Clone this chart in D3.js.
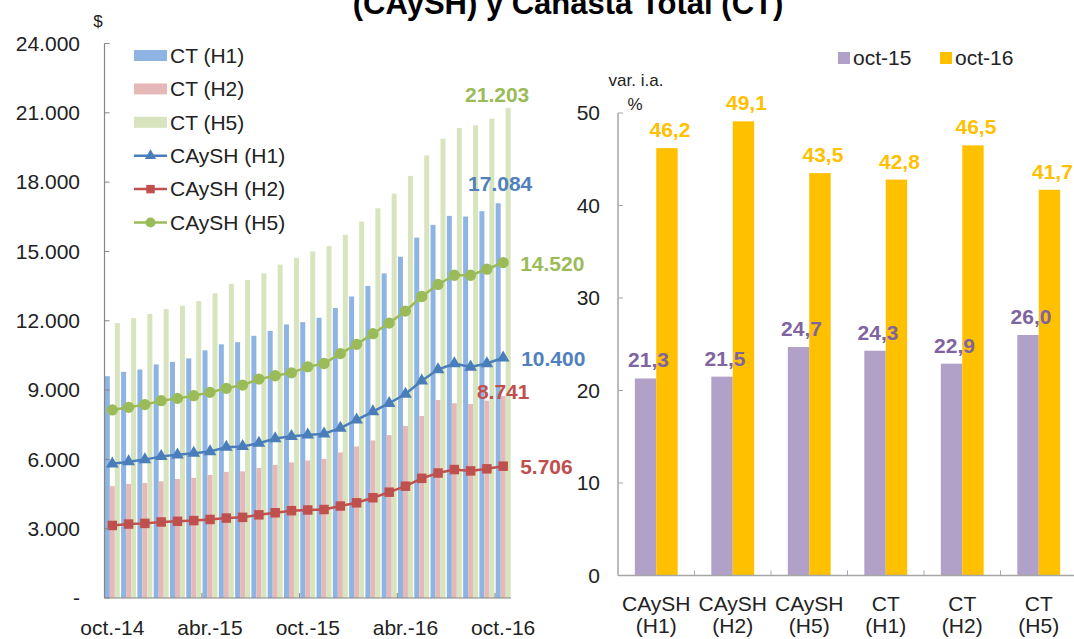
<!DOCTYPE html>
<html>
<head>
<meta charset="utf-8">
<script src="https://cdn.jsdelivr.net/npm/d3@7"></script>
<style>
  html, body { margin: 0; padding: 0; background: #fff; }
  svg { display: block; font-family: Arial, "Liberation Sans", sans-serif; }
</style>
</head>
<body>
<svg id="chart" width="1074" height="639"></svg>
<script>
// ---------- DATA ----------
const months = ["oct.-14","nov.-14","dic.-14","ene.-15","feb.-15","mar.-15","abr.-15","may.-15","jun.-15","jul.-15","ago.-15","sep.-15",
                "oct.-15","nov.-15","dic.-15","ene.-16","feb.-16","mar.-16","abr.-16","may.-16","jun.-16","jul.-16","ago.-16","sep.-16","oct.-16"];
const monthTickLabels = ["oct.-14","abr.-15","oct.-15","abr.-16","oct.-16"];

const ctH1 = [9600, 9790, 9890, 10110, 10220, 10370, 10720, 10980, 11070, 11350, 11560, 11840, 11940, 12130, 12550, 13050, 13510, 14050, 14770, 15600, 16150, 16540, 16510, 16740, 17084];
const ctH2 = [4840, 4940, 4980, 5050, 5150, 5200, 5330, 5460, 5480, 5630, 5760, 5870, 5950, 6020, 6300, 6560, 6820, 7050, 7450, 7880, 8570, 8430, 8400, 8540, 8741];
const ctH5 = [11900, 12110, 12300, 12500, 12650, 12850, 13190, 13600, 13770, 14050, 14430, 14720, 15000, 15230, 15720, 16290, 16870, 17500, 18270, 19160, 19880, 20340, 20460, 20750, 21203];
const caH1 = [5810, 5900, 5990, 6130, 6200, 6270, 6340, 6530, 6560, 6700, 6900, 7000, 7060, 7110, 7350, 7710, 8070, 8430, 8830, 9400, 9890, 10150, 10000, 10150, 10400];
const caH2 = [3140, 3200, 3230, 3290, 3320, 3350, 3400, 3460, 3490, 3600, 3690, 3780, 3810, 3830, 3980, 4120, 4340, 4580, 4840, 5180, 5410, 5560, 5500, 5590, 5706];
const caH5 = [8140, 8255, 8370, 8540, 8640, 8755, 8900, 9075, 9215, 9475, 9620, 9745, 10005, 10150, 10580, 10980, 11440, 11900, 12420, 13050, 13570, 13970, 13970, 14230, 14520];
const leftTicks = [0, 3000, 6000, 9000, 12000, 15000, 18000, 21000, 24000];

const varCategories = ["CAySH (H1)", "CAySH (H2)", "CAySH (H5)", "CT (H1)", "CT (H2)", "CT (H5)"];
const oct15 = [21.3, 21.5, 24.7, 24.3, 22.9, 26.0];
const oct16 = [46.2, 49.1, 43.5, 42.8, 46.5, 41.7];
const rightTicks = [0, 10, 20, 30, 40, 50];

// ---------- SETUP ----------
const svg = d3.select("#chart");
svg.append("rect").attr("width", 1074).attr("height", 639).attr("fill", "#fff");

const loc = d3.formatLocale({decimal: ",", thousands: ".", grouping: [3], currency: ["$", ""]});
const fmtThousands = loc.format(",d");
const fmtPct = loc.format(".1f");

// Title (partially cut off at top, as in the source)
svg.append("text").attr("x", 568).attr("y", 14).attr("text-anchor", "middle")
  .attr("font-size", 31).attr("font-weight", "bold").attr("fill", "#000")
  .text("(CAySH) y Canasta Total (CT)");

// ---------- LEFT CHART ----------
const L = {x0: 104.5, x1: 511, y0: 598, y1: 43.5};
const xL = d3.scaleBand().domain(d3.range(months.length)).range([L.x0, L.x1]).paddingInner(0.08).paddingOuter(0.02);
const xSub = d3.scaleBand().domain(["H1","H2","H5"]).range([0, xL.bandwidth()]);
const yL = d3.scaleLinear().domain([0, 24000]).range([L.y0, L.y1]);

const barSeries = [
  {key: "H1", name: "CT (H1)", values: ctH1, color: "#8DB4E2"},
  {key: "H2", name: "CT (H2)", values: ctH2, color: "#E6B9B8"},
  {key: "H5", name: "CT (H5)", values: ctH5, color: "#D7E4BD"}
];
const lineSeries = [
  {name: "CAySH (H1)", values: caH1, color: "#4A7EBB", marker: "triangle"},
  {name: "CAySH (H2)", values: caH2, color: "#C0504D", marker: "square"},
  {name: "CAySH (H5)", values: caH5, color: "#9BBB59", marker: "circle"}
];

const gL = svg.append("g");
barSeries.forEach(s => {
  gL.append("g").selectAll("rect").data(s.values).join("rect")
    .attr("x", (d, i) => xL(i) + xSub(s.key))
    .attr("y", d => yL(d))
    .attr("width", xSub.bandwidth())
    .attr("height", d => yL(0) - yL(d))
    .attr("fill", s.color);
});

const cx = i => xL(i) + xL.bandwidth() / 2;
const symType = {triangle: d3.symbolTriangle, square: d3.symbolSquare, circle: d3.symbolCircle};
const symSize = {triangle: 70, square: 90, circle: 100};
lineSeries.forEach(s => {
  gL.append("path").datum(s.values)
    .attr("fill", "none").attr("stroke", s.color).attr("stroke-width", 2.5)
    .attr("d", d3.line().x((d, i) => cx(i)).y(d => yL(d)));
  gL.append("g").selectAll("path").data(s.values).join("path")
    .attr("transform", (d, i) => `translate(${cx(i)},${yL(d)})`)
    .attr("d", d3.symbol().type(symType[s.marker]).size(symSize[s.marker]))
    .attr("fill", s.color);
});

// Left axes
const axisColor = "#868686";
gL.append("line").attr("x1", L.x0).attr("x2", L.x0).attr("y1", L.y1).attr("y2", L.y0).attr("stroke", axisColor).attr("stroke-width", 1.2);
gL.append("line").attr("x1", L.x0).attr("x2", L.x1).attr("y1", L.y0).attr("y2", L.y0).attr("stroke", axisColor).attr("stroke-width", 1.2);
leftTicks.forEach(t => {
  gL.append("line").attr("x1", L.x0).attr("x2", L.x0 + 5).attr("y1", yL(t)).attr("y2", yL(t)).attr("stroke", axisColor);
  gL.append("text").attr("x", 80).attr("y", yL(t)).attr("dy", "0.35em").attr("text-anchor", "end")
    .attr("font-size", 21).attr("fill", "#222").text(t === 0 ? "-" : fmtThousands(t));
});
gL.append("text").attr("x", 98).attr("y", 27).attr("text-anchor", "middle").attr("font-size", 17).attr("fill", "#222").text("$");
d3.range(0, months.length + 1, 6).forEach(k => {
  const xb = k === 0 ? L.x0 : (k >= months.length ? L.x1 : xL(k) - xL.step() * xL.paddingInner() / 2);
  gL.append("line").attr("x1", xb).attr("x2", xb).attr("y1", L.y0).attr("y2", L.y0 - 5).attr("stroke", axisColor);
});
months.forEach((m, i) => {
  if (monthTickLabels.includes(m)) {
    gL.append("text").attr("x", cx(i)).attr("y", 635).attr("text-anchor", "middle")
      .attr("font-size", 21).attr("fill", "#222").text(m);
  }
});

// Left legend
const legY0 = 55.5, legStep = 33.4;
const allLeg = barSeries.map(s => ({name: s.name, color: s.color, type: "bar"}))
  .concat(lineSeries.map(s => ({name: s.name, color: s.color, type: "line", marker: s.marker})));
allLeg.forEach((s, i) => {
  const y = legY0 + i * legStep;
  if (s.type === "bar") {
    gL.append("rect").attr("x", 134).attr("y", y - 5.5).attr("width", 33).attr("height", 11).attr("fill", s.color);
  } else {
    gL.append("line").attr("x1", 134).attr("x2", 167).attr("y1", y).attr("y2", y).attr("stroke", s.color).attr("stroke-width", 2.5);
    gL.append("path").attr("transform", `translate(150.5,${y})`)
      .attr("d", d3.symbol().type(symType[s.marker]).size(symSize[s.marker] * 0.8)).attr("fill", s.color);
  }
  gL.append("text").attr("x", 170).attr("y", y).attr("dy", "0.35em").attr("font-size", 21).attr("fill", "#222").text(s.name);
});

// Left end-value labels
const last = months.length - 1;
const endLabels = [
  {v: ctH5[last], color: "#9BBB59", x: cx(last) - 6, y: yL(ctH5[last]) - 6, anchor: "middle"},
  {v: ctH1[last], color: "#4F81BD", x: cx(last) - 3, y: yL(ctH1[last]) - 12, anchor: "middle"},
  {v: caH5[last], color: "#9BBB59", x: cx(last) + 17, y: yL(caH5[last]) + 8, anchor: "start"},
  {v: caH1[last], color: "#4F81BD", x: cx(last) + 18, y: yL(caH1[last]) + 8, anchor: "start"},
  {v: ctH2[last], color: "#C0504D", x: cx(last), y: yL(ctH2[last]) + 3, anchor: "middle"},
  {v: caH2[last], color: "#C0504D", x: cx(last) + 17, y: yL(caH2[last]) + 8, anchor: "start"}
];
endLabels.forEach(l => {
  gL.append("text").attr("x", l.x).attr("y", l.y).attr("text-anchor", l.anchor)
    .attr("font-size", 21).attr("font-weight", "bold").attr("fill", l.color).text(fmtThousands(l.v));
});

// ---------- RIGHT CHART ----------
const R = {x0: 618, x1: 1077, y0: 575.5, y1: 113};
const xR = d3.scaleBand().domain(varCategories).range([R.x0, R.x1]).paddingInner(0.44).paddingOuter(0.22);
const xRs = d3.scaleBand().domain(["oct-15", "oct-16"]).range([0, xR.bandwidth()]);
const yR = d3.scaleLinear().domain([0, 50]).range([R.y0, R.y1]);
const rSeries = [
  {key: "oct-15", values: oct15, color: "#B1A0C7", label: "#8064A2"},
  {key: "oct-16", values: oct16, color: "#FFC000", label: "#FFC000"}
];
const gR = svg.append("g");
const gRbars = gR.append("g");
const gRlabels = gR.append("g");
rSeries.forEach(s => {
  gRbars.append("g").selectAll("rect").data(s.values).join("rect")
    .attr("x", (d, i) => xR(varCategories[i]) + xRs(s.key))
    .attr("y", d => yR(d))
    .attr("width", xRs.bandwidth())
    .attr("height", d => yR(0) - yR(d))
    .attr("fill", s.color);
  gRlabels.append("g").selectAll("text").data(s.values).join("text")
    .attr("x", (d, i) => xR(varCategories[i]) + xRs(s.key) + xRs.bandwidth() / 2 + 3)
    .attr("y", d => yR(d) - 11)
    .attr("text-anchor", "middle").attr("font-size", 21).attr("font-weight", "bold")
    .attr("fill", s.label).text(d => fmtPct(d));
});
const axisColorR = "#A6A6A6";
gR.append("line").attr("x1", R.x0).attr("x2", R.x0).attr("y1", R.y1).attr("y2", R.y0).attr("stroke", axisColorR).attr("stroke-width", 1.5);
gR.append("line").attr("x1", R.x0).attr("x2", 1074).attr("y1", R.y0).attr("y2", R.y0).attr("stroke", axisColorR).attr("stroke-width", 1.5);
rightTicks.forEach(t => {
  gR.append("line").attr("x1", R.x0).attr("x2", R.x0 + 5).attr("y1", yR(t)).attr("y2", yR(t)).attr("stroke", axisColorR);
  gR.append("text").attr("x", 600).attr("y", yR(t)).attr("dy", "0.35em").attr("text-anchor", "end")
    .attr("font-size", 21).attr("fill", "#222").text(t);
});
varCategories.forEach((c, i) => {
  if (i > 0) {
    const xb = xR(c) - xR.step() * xR.paddingInner() / 2;
    gR.append("line").attr("x1", xb).attr("x2", xb).attr("y1", R.y0).attr("y2", R.y0 - 5).attr("stroke", axisColorR);
  }
  const parts = c.split(" ");
  const xc = xR(c) + xR.bandwidth() / 2;
  gR.append("text").attr("x", xc).attr("y", 611).attr("text-anchor", "middle").attr("font-size", 21).attr("fill", "#222").text(parts[0]);
  gR.append("text").attr("x", xc).attr("y", 633).attr("text-anchor", "middle").attr("font-size", 21).attr("fill", "#222").text(parts[1]);
});
gR.append("text").attr("x", 636).attr("y", 86).attr("text-anchor", "middle").attr("font-size", 17).attr("fill", "#222").text("var. i.a.");
gR.append("text").attr("x", 635).attr("y", 110).attr("text-anchor", "middle").attr("font-size", 17).attr("fill", "#222").text("%");

// Right legend
const rLeg = [{name: "oct-15", color: "#B1A0C7", x: 838}, {name: "oct-16", color: "#FFC000", x: 940}];
rLeg.forEach(l => {
  gR.append("rect").attr("x", l.x).attr("y", 52).attr("width", 12).attr("height", 12).attr("fill", l.color);
  gR.append("text").attr("x", l.x + 15).attr("y", 58).attr("dy", "0.35em").attr("font-size", 21).attr("fill", "#222").text(l.name);
});
</script>
</body>
</html>
